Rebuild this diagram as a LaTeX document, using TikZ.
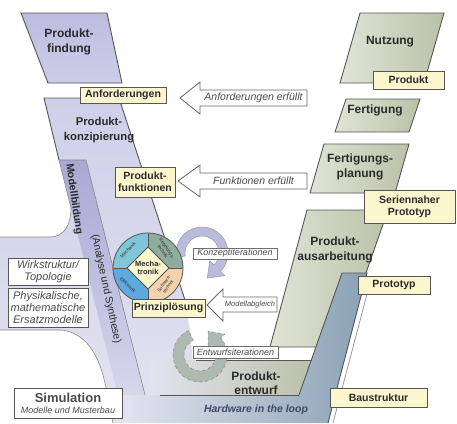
\documentclass[tikz,border=0pt]{standalone}
\usepackage{fontspec}
\setmainfont{Liberation Sans}
\usetikzlibrary{calc}
\definecolor{bord}{HTML}{555555}
\definecolor{lavF}{HTML}{BCBCDF}
\definecolor{lavFb}{HTML}{CDCDE9}
\definecolor{lavT}{HTML}{CFCFE9}
\definecolor{lavB}{HTML}{E3E3F0}
\definecolor{stripT}{HTML}{A8A8D4}
\definecolor{stripB}{HTML}{D6D6EC}
\definecolor{grnD}{HTML}{BAC1A8}
\definecolor{grnL}{HTML}{E1E4D6}
\definecolor{bluL}{HTML}{E0E2EE}
\definecolor{bluD}{HTML}{8AA1B5}
\definecolor{ylw}{HTML}{FCF6CF}
\definecolor{mech}{HTML}{80C6D8}
\definecolor{regel}{HTML}{8FAD9C}
\definecolor{soft}{HTML}{F3D3AF}
\definecolor{elek}{HTML}{5EA9DD}
\definecolor{konz}{HTML}{BBBBDD}
\definecolor{entw}{HTML}{AEB9B2}
\definecolor{txt}{HTML}{2B2B2B}
\definecolor{hwtxt}{HTML}{3F4A63}
\begin{document}
\begin{tikzpicture}[x=1pt,y=-1pt,
  big/.style={font=\bfseries\fontsize{12}{14.5}\selectfont, text=txt, align=center, inner sep=0},
  ybox/.style={draw=bord, fill=ylw, line width=0.8pt, font=\bfseries\fontsize{10.5}{12}\selectfont, text=txt, align=center, inner sep=0},
  wbox/.style={draw=bord!85, fill=white, line width=0.7pt, font=\itshape\fontsize{9}{10}\selectfont, text=txt!85, inner sep=0},
  lbox/.style={draw=bord, fill=white, line width=0.9pt, font=\itshape\fontsize{11}{11.6}\selectfont, text=txt!85, align=center, inner sep=0},
  barrow/.style={draw=bord!90, fill=white, line width=0.8pt},
  atext/.style={font=\itshape\fontsize{10.5}{12}\selectfont, text=txt!85, inner sep=0},
  edgeline/.style={draw=bord, line width=0.9pt},
  thinline/.style={draw=bord!70, line width=0.6pt},
  seclabel/.style={font=\fontsize{4.6}{5}\selectfont, text=txt, align=center, inner sep=0},
]
\useasboundingbox (0,0) rectangle (457,423);
\fill[white] (0,0) rectangle (457,423);

% lavender arm (Produktkonzipierung, Modellbildung region)
\path[top color=lavT, bottom color=lavB] (44,98) -- (119,98) -- (185,300) -- (190,330) -- (196,395) -- (196,423) -- (113,423) -- (110,410) .. controls (104,370) and (95,335) .. (62,330) -- (0,330) -- (0,237) -- (50,237) .. controls (64,237) and (71,225) .. (71,208) -- (59,160) -- cycle;
% Modellbildung strip
\path[top color=stripT, bottom color=stripB] (59,160) -- (86,160) -- (145,395) -- (118,395) -- cycle;

% Produktfindung
\path[top color=lavF, bottom color=lavFb, edgeline] (21,13) -- (107,13) -- (122,83) -- (48,83) -- cycle;

% right arm
\path[left color=grnL, right color=grnD, edgeline] (360,13) -- (444,13) -- (424,83) -- (340,83) -- cycle;
\path[left color=grnL, right color=grnD, edgeline] (346,99) -- (420,99) -- (409,132) -- (335,132) -- cycle;
\path[left color=grnL, right color=grnD, edgeline] (324,144) -- (409,144) -- (395,193) -- (310,193) -- cycle;
\path[left color=grnL, right color=grnD, edgeline] (307,210) -- (388,210) -- (340,347) -- (270,347) -- cycle;

% Produktentwurf
\path[left color=lavB, right color=grnD] (150,360) -- (312,360) -- (299,395) -- (150,395) -- cycle;

% Hardware in the loop (blue)
\path[left color=bluL, right color=bluD] (342,273) -- (367,273) -- (328,423) -- (130,423) -- (130,395) -- (299,395) -- cycle;
\draw[edgeline] (299,395) -- (342,273) -- (367,273) -- (328,423);
\draw[draw=bord!60, line width=0.8pt] (371,279) -- (333,423);
\draw[edgeline] (196,360) -- (312,360);
\draw[edgeline] (160,395) -- (299,395);

% borders of lavender arm
\draw[edgeline] (59,160) -- (44,98) -- (119,98) -- (185,300);
\draw[thinline] (59,160) -- (86,160) -- (145,395);
\draw[thinline] (59,160) -- (71,208) .. controls (71,225) and (64,237) .. (50,237) -- (0,237);
\draw[thinline] (0,330) -- (62,330) .. controls (95,335) and (104,370) .. (110,410) -- (113,423);

% Konzeptiterationen curved arrow
\begin{scope}[shift={(202,253)}, y=1pt]
\path[fill=konz, draw=bord!60, line width=0.5pt] (190:26) arc[start angle=190, end angle=-45, radius=26] -- (-45:32) -- (5.3,-25.1) -- (-45:11) -- (-45:17) arc[start angle=-45, end angle=190, radius=17] -- cycle;
\end{scope}
% Entwurfsiterationen curved arrow
\begin{scope}[shift={(200,355)}, y=1pt]
\path[fill=entw, draw=bord!70, dashed, line width=0.5pt] (115:27) arc[start angle=115, end angle=400, radius=27] -- (40:32.5) -- (8.1,23.8) -- (40:10.5) -- (40:16) arc[start angle=400, end angle=115, radius=16] -- cycle;
\end{scope}

% block arrows
\path[barrow] (180,98) -- (200,82) -- (200,90) -- (307,90) -- (307,106) -- (200,106) -- (200,114) -- cycle;
\node[atext] (aerf) at (253.5,98) {Anforderungen erfüllt};
\path[barrow] (178,181) -- (200,165) -- (200,173) -- (307,173) -- (307,189) -- (200,189) -- (200,197) -- cycle;
\node[atext] (ferf) at (253.5,181) {Funktionen erfüllt};
\path[barrow] (207,305) -- (223,289) -- (223,297) -- (277,297) -- (277,312) -- (223,312) -- (223,321) -- cycle;
\node[atext, font=\itshape\fontsize{7.5}{8}\selectfont] (mab) at (250,304.5) {Modellabgleich};

% Mechatronik wheel
\begin{scope}[shift={(148,268)}, y=1pt]
\fill[mech] (0,0) -- (90:35) arc[start angle=90, end angle=180, radius=35] -- cycle;
\fill[regel] (0,0) -- (0:35) arc[start angle=0, end angle=90, radius=35] -- cycle;
\fill[soft] (0,0) -- (-90:35) arc[start angle=-90, end angle=0, radius=35] -- cycle;
\fill[elek] (0,0) -- (180:35) arc[start angle=180, end angle=270, radius=35] -- cycle;
\draw[bord, line width=0.8pt] (0,0) circle[radius=35];
\draw[bord, line width=0.7pt] (0,21) -- (0,35) (21,0) -- (35,0) (0,-21) -- (0,-35) (-21,0) -- (-35,0);
\draw[fill=ylw, draw=bord, line width=0.8pt] (0,21) -- (21,0) -- (0,-21) -- (-21,0) -- cycle;
\node[font=\bfseries\fontsize{7.5}{8.5}\selectfont, text=txt, align=center, inner sep=0] (mtr) at (0,0) {Mecha-\\tronik};
\node[seclabel, rotate=45] (smech) at (-20,18) {Mechanik};
\node[seclabel, rotate=-55] (sreg) at (17,18) {Regelungs-\\technik};
\node[seclabel, rotate=55] (ssoft) at (18,-17) {Software-\\technik};
\node[seclabel, rotate=-45] (selek) at (-20,-17) {Elektronik};
\end{scope}

% white label boxes
\node[wbox, minimum width=84, minimum height=11] (konz) at (235,253.5) {Konzeptiterationen};
\node[wbox, minimum width=85, minimum height=12] (entw) at (235.5,352) {Entwurfsiterationen};

% yellow boxes
\node[ybox, minimum width=86, minimum height=16] (anf) at (123,95) {Anforderungen};
\node[ybox, minimum width=60, minimum height=30] (pfk) at (145,182) {Produkt-\\funktionen};
\node[ybox, minimum width=73, minimum height=18] (prl) at (168.5,308) {Prinziplösung};
\node[ybox, minimum width=71, minimum height=18] (prd) at (408.5,80) {Produkt};
\node[ybox, minimum width=91, minimum height=33] (snp) at (409.5,206.5) {Seriennaher\\Prototyp};
\node[ybox, minimum width=72, minimum height=18] (ptt) at (394,285) {Prototyp};
\node[ybox, minimum width=97, minimum height=19] (bst) at (378.5,397.5) {Baustruktur};

% left boxes
\node[lbox, minimum width=80, minimum height=27] (wst) at (48,271.5) {Wirkstruktur/\\Topologie};
\node[lbox, minimum width=80, minimum height=39] (pme) at (48,307.5) {Physikalische,\\mathematische\\Ersatzmodelle};
\node[lbox, minimum width=108, minimum height=30, font=\normalfont] (sim) at (68,403) {{\bfseries\fontsize{13}{14}\selectfont Simulation}\\[-1pt]{\itshape\fontsize{9}{10}\selectfont Modelle und Musterbau}};

% phase labels
\node[big] (pfi) at (69,42) {Produkt-\\findung};
\node[big, font=\bfseries\fontsize{11.3}{14.5}\selectfont] (pko) at (99,130) {Produkt-\\konzipierung};
\node[big] (nut) at (390,42) {Nutzung};
\node[big] (fer) at (375,110) {Fertigung};
\node[big] (fpl) at (360,167) {Fertigungs-\\planung};
\node[big] (pau) at (335,250) {Produkt-\\ausarbeitung};
\node[big] (pen) at (256,383) {Produkt-\\entwurf};
\node[font=\bfseries\itshape\fontsize{10.5}{12}\selectfont, text=hwtxt, inner sep=0] (hil) at (256,410) {Hardware in the loop};
\node[rotate=-82, font=\bfseries\fontsize{10.5}{12}\selectfont, text=txt, inner sep=0] (mob) at (74,199) {Modellbildung};
\node[rotate=-78, font=\fontsize{10.5}{12}\selectfont, text=txt, inner sep=0] (ans) at (106,289) {(Analyse und Synthese)};
\end{tikzpicture}
\end{document}
